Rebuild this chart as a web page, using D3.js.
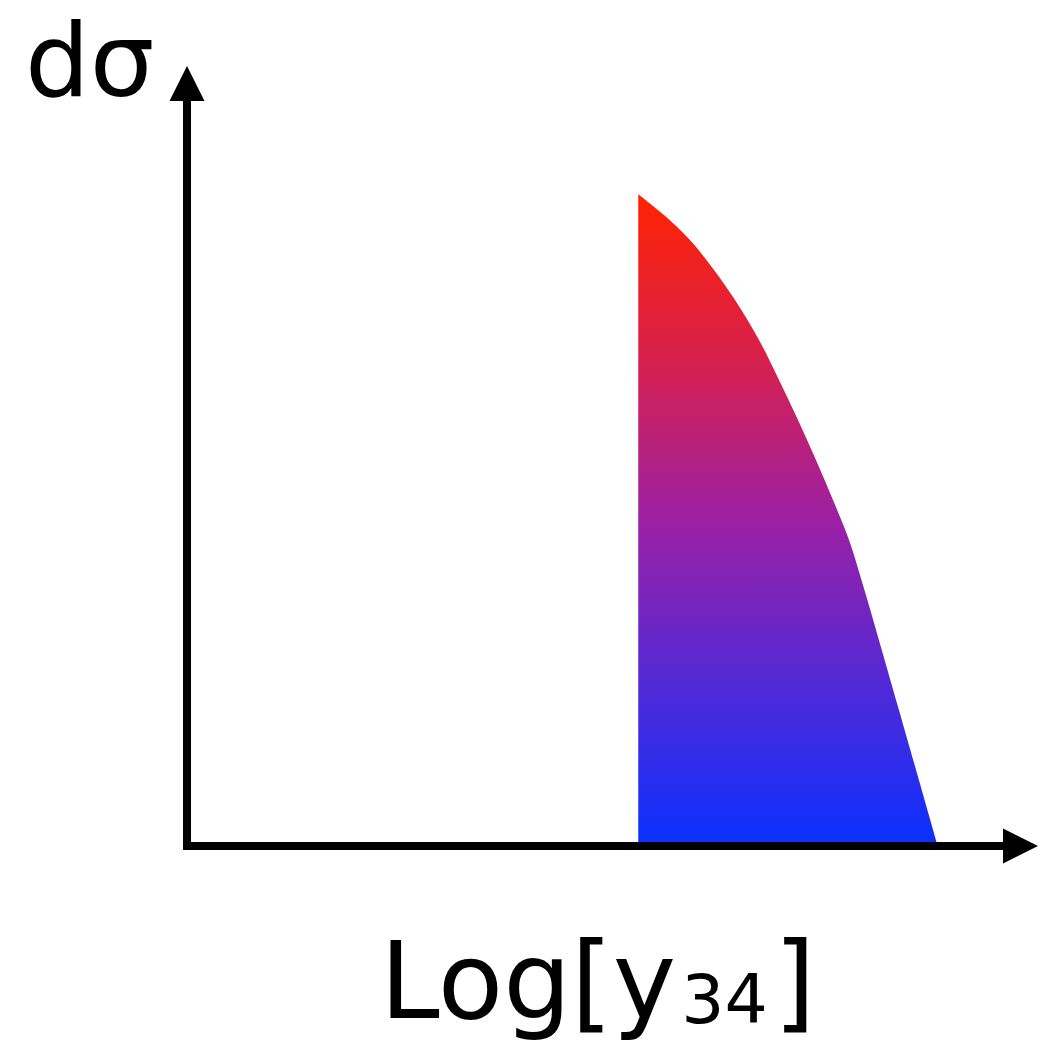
<!DOCTYPE html>
<html>
<head>
<meta charset="utf-8">
<script src="https://cdn.jsdelivr.net/npm/d3@7"></script>
<style>
  html, body { margin: 0; padding: 0; background: #fff; }
  svg { display: block; }
</style>
</head>
<body>
<script>
// Log[y34] values (arbitrary units) along the upper edge of the distribution
const logY34 = [55.3, 58.46, 61.64, 64.58, 67.16, 70.10, 72.55, 74.88, 77.08, 79.17, 81.13, 82.84, 87.32, 92.0];
// dσ values (arbitrary units)
const dSigma = [87.5, 84.70, 81.34, 77.32, 73.29, 67.92, 62.55, 57.18, 51.81, 46.44, 41.07, 35.03, 17.99, 0];
const xLabel = ["Log[y", "34", "]"];
const yLabel = "dσ";
const gradientColors = ["#ff2300", "#d8204c", "#9c20a4", "#5229d6", "#0a30ff"];

const W = 1059, H = 1044;
const svg = d3.select("body").append("svg").attr("width", W).attr("height", H);

const x = d3.scaleLinear().domain([0, 100]).range([187, 1003]);
const y = d3.scaleLinear().domain([0, 100]).range([846, 101]);

const data = logY34.map((v, i) => ({ x: v, y: dSigma[i] }));

// gradient (vertical, top red -> bottom blue)
const defs = svg.append("defs");
const grad = defs.append("linearGradient")
  .attr("id", "fillGrad")
  .attr("gradientUnits", "userSpaceOnUse")
  .attr("x1", 0).attr("x2", 0)
  .attr("y1", y(d3.max(dSigma))).attr("y2", y(0));
gradientColors.forEach((c, i) => {
  grad.append("stop")
    .attr("offset", (i / (gradientColors.length - 1) * 100) + "%")
    .attr("stop-color", c);
});

const area = d3.area()
  .x(d => x(d.x))
  .y0(y(0))
  .y1(d => y(d.y))
  .curve(d3.curveCatmullRom.alpha(0.5));

svg.append("path")
  .datum(data)
  .attr("d", area)
  .attr("fill", "url(#fillGrad)");

// axes with arrow heads
const x0 = x(0), y0 = y(0);
const xEnd = x.range()[1], yEnd = y.range()[1];
const lw = 8, ah = 35, aw = 17.5;

svg.append("line")
  .attr("x1", x0 - lw / 2).attr("x2", xEnd)
  .attr("y1", y0).attr("y2", y0)
  .attr("stroke", "#000").attr("stroke-width", lw);
svg.append("line")
  .attr("x1", x0).attr("x2", x0)
  .attr("y1", y0 + lw / 2).attr("y2", yEnd)
  .attr("stroke", "#000").attr("stroke-width", lw);

svg.append("path")
  .attr("d", `M${xEnd},${y0 - aw} L${xEnd + ah},${y0} L${xEnd},${y0 + aw} Z`)
  .attr("fill", "#000");
svg.append("path")
  .attr("d", `M${x0 - aw},${yEnd} L${x0},${yEnd - ah} L${x0 + aw},${yEnd} Z`)
  .attr("fill", "#000");

// labels
const font = "'DejaVu Sans', sans-serif";
svg.append("text")
  .attr("x", 25).attr("y", 96)
  .attr("font-family", font)
  .attr("font-size", 102)
  .attr("fill", "#000")
  .text(yLabel);

const t = svg.append("text")
  .attr("x", 380).attr("y", 1018)
  .attr("font-family", font)
  .attr("font-size", 107)
  .attr("fill", "#000");
t.append("tspan").text(xLabel[0]);
t.append("tspan").attr("font-size", 68).attr("dy", 5).attr("dx", 5).text(xLabel[1]);
t.append("tspan").attr("dy", -5).attr("dx", 6).text(xLabel[2]);
</script>
</body>
</html>
